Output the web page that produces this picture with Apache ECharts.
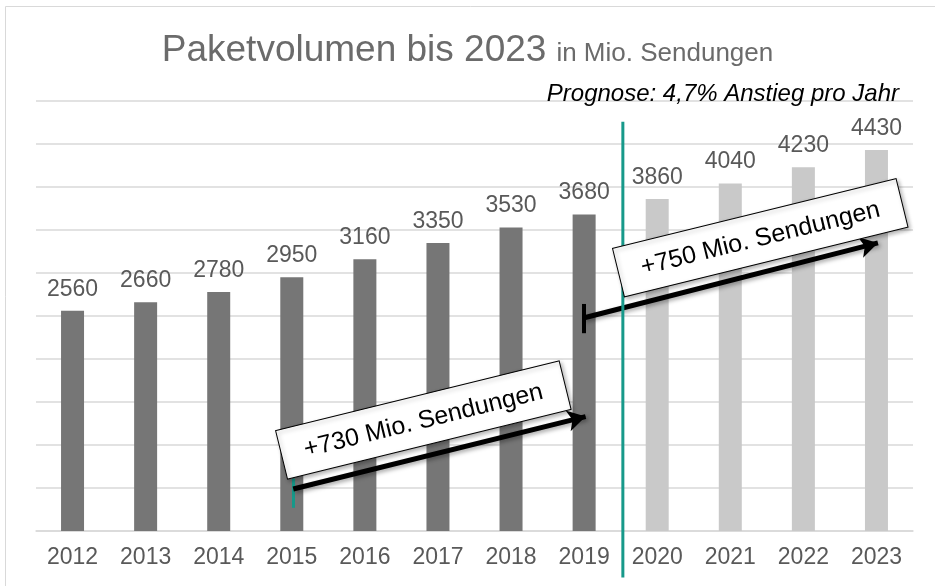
<!DOCTYPE html>
<html>
<head>
<meta charset="utf-8">
<script src="https://cdn.jsdelivr.net/npm/echarts@6/dist/echarts.min.js"></script>
<style>
  html, body { margin: 0; padding: 0; background: #fff; }
  #chart { width: 935px; height: 586px; }
</style>
</head>
<body>
<div id="chart"></div>
<script>
// ---- data
var years = ['2012', '2013', '2014', '2015', '2016', '2017', '2018', '2019', '2020', '2021', '2022', '2023'];
var volumes = [2560, 2660, 2780, 2950, 3160, 3350, 3530, 3680, 3860, 4040, 4230, 4430];
var firstForecast = 8; // 2020 onwards = Prognose

// annotations, in [category index, value] units
var boxCenters = [[4.80, 1290], [9.41, 3410]];
var boxTexts = ['+730 Mio. Sendungen', '+750 Mio. Sendungen'];
var arrowFrom = [[3.02, 488], [6.99, 2477]];
var arrowTo = [[7.02, 1330], [11.02, 3350]];
var divider = [7.53, 4760, -540];

var chart = echarts.init(document.getElementById('chart'));

var barData = volumes.map(function (v, i) {
    return {
        value: v,
        itemStyle: { color: i >= firstForecast ? '#c9c9c9' : '#767676' }
    };
});

var arrowStyle = {
    type: 'solid', color: '#000', width: 5,
    shadowBlur: 4, shadowColor: 'rgba(0,0,0,0.35)', shadowOffsetX: 2, shadowOffsetY: 2
};

option = {
    animation: false,
    title: [{
        left: 'center',
        top: 27,
        text: '{a|Paketvolumen bis 2023}  {b|in Mio. Sendungen}',
        textStyle: {
            rich: {
                a: { fontSize: 37, fontWeight: 'normal', color: '#6b6b6b', fontFamily: 'Arial, Liberation Sans' },
                b: { fontSize: 26, fontWeight: 'normal', color: '#6b6b6b', fontFamily: 'Arial, Liberation Sans', padding: [6, 0, 0, 0] }
            }
        }
    }, {
        right: 31,
        top: 77,
        text: 'Prognose: 4,7% Anstieg pro Jahr',
        textStyle: {
            fontSize: 24,
            fontStyle: 'italic',
            fontWeight: 'normal',
            color: '#000',
            fontFamily: 'Arial, Liberation Sans'
        }
    }],
    grid: {
        left: 36,
        width: 877,
        top: 101,
        height: 430
    },
    xAxis: [{
        type: 'category',
        data: years,
        axisTick: { show: false },
        axisLine: { lineStyle: { color: '#d9d9d9', width: 1.5 } },
        axisLabel: {
            color: '#595959',
            fontSize: 23,
            margin: 15,
            fontFamily: 'Arial, Liberation Sans'
        }
    }, {
        type: 'value',
        min: -0.5,
        max: 11.5,
        show: false
    }],
    yAxis: {
        type: 'value',
        min: 0,
        max: 5000,
        interval: 500,
        axisLabel: { show: false },
        axisLine: { show: false },
        axisTick: { show: false },
        splitLine: { lineStyle: { color: '#d9d9d9', width: 1.5 } }
    },
    series: [{
        name: 'Paketvolumen',
        type: 'bar',
        barWidth: 23,
        data: barData,
        label: {
            show: true,
            position: 'top',
            distance: 10,
            color: '#595959',
            fontSize: 23,
            fontFamily: 'Arial, Liberation Sans'
        }
    }, {
        // arrows and start ticks
        type: 'line',
        xAxisIndex: 1,
        data: [],
        clip: false,
        silent: true,
        z: 6,
        markLine: {
            silent: true,
            animation: false,
            label: { show: false },
            symbol: ['none', 'none'],
            data: [
                [{ coord: [arrowFrom[0][0], 270], lineStyle: { type: 'solid', color: '#17998a', width: 3 } }, { coord: [arrowFrom[0][0], 610] }],
                [{ coord: [arrowFrom[1][0], 2300], lineStyle: { type: 'solid', color: '#000', width: 4 } }, { coord: [arrowFrom[1][0], 2640] }],
                [{ coord: arrowFrom[0], lineStyle: arrowStyle }, { coord: arrowTo[0], symbol: 'arrow', symbolSize: [16, 18] }],
                [{ coord: arrowFrom[1], lineStyle: arrowStyle }, { coord: arrowTo[1], symbol: 'arrow', symbolSize: [16, 18] }]
            ]
        }
    }, {
        // rotated text boxes
        type: 'custom',
        xAxisIndex: 1,
        silent: true,
        z: 10,
        data: boxCenters,
        renderItem: function (params, api) {
            var p = api.coord([api.value(0), api.value(1)]);
            return {
                type: 'group',
                x: p[0],
                y: p[1],
                rotation: 0.241,
                children: [{
                    type: 'rect',
                    shape: { x: -146, y: -25, width: 292, height: 50 },
                    style: {
                        fill: '#fff', stroke: '#000', lineWidth: 1,
                        shadowBlur: 4, shadowColor: 'rgba(0,0,0,0.3)', shadowOffsetX: 2, shadowOffsetY: 2
                    }
                }, {
                    type: 'text',
                    style: {
                        text: boxTexts[params.dataIndex],
                        x: 0,
                        y: 1,
                        align: 'center',
                        verticalAlign: 'middle',
                        fontSize: 25,
                        fontFamily: 'Arial, Liberation Sans',
                        fill: '#000'
                    }
                }]
            };
        }
    }]
};
chart.setOption(option);

// frame + teal Prognose divider (runs past the grid, so placed via the axes)
var dx = chart.convertToPixel({ xAxisIndex: 1 }, divider[0]);
var dy1 = chart.convertToPixel({ yAxisIndex: 0 }, divider[1]);
var dy2 = chart.convertToPixel({ yAxisIndex: 0 }, divider[2]);
chart.setOption({
    graphic: [{
        type: 'rect',
        silent: true,
        shape: { x: 5.5, y: 6.5, width: 960, height: 620 },
        style: { fill: 'none', stroke: '#d9d9d9', lineWidth: 1 }
    }, {
        type: 'line',
        silent: true,
        z: 5,
        shape: { x1: dx, y1: dy1, x2: dx, y2: dy2 },
        style: { stroke: '#17998a', lineWidth: 3 }
    }]
});
</script>
</body>
</html>
